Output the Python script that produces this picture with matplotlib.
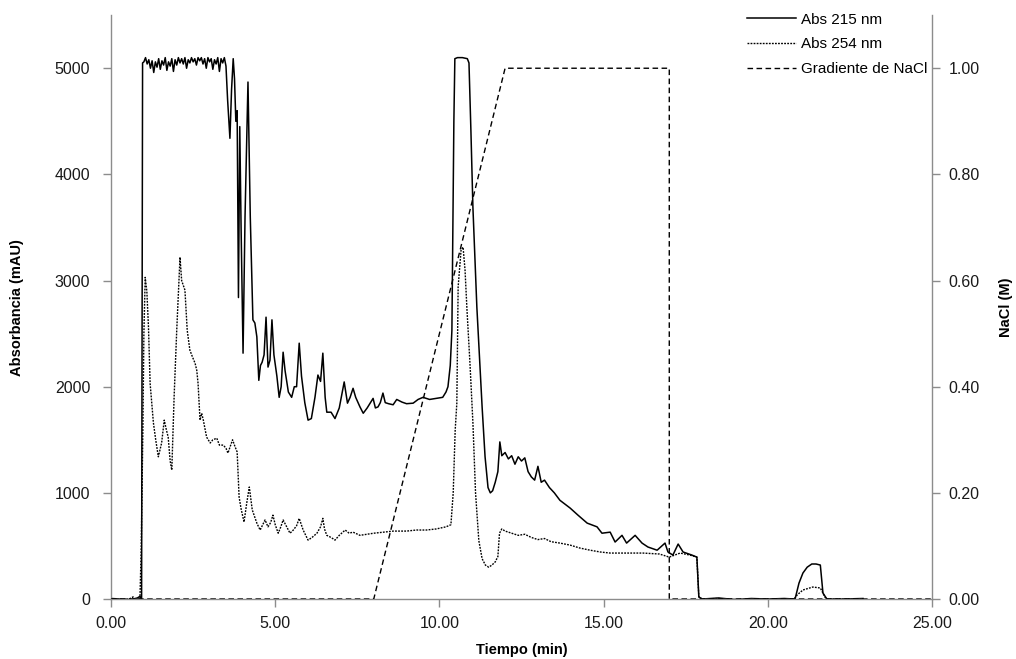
import numpy as np
import matplotlib
matplotlib.use("Agg")
import matplotlib.pyplot as plt

plt.rcParams['font.family'] = ['Liberation Sans', 'DejaVu Sans']

# Abs 215 nm (mAU)
t215 = [0.0, 0.3, 0.6, 0.8, 0.88, 0.93, 0.96, 1.00, 1.05, 1.10, 1.15, 1.20, 1.25, 1.30, 1.35,
        1.40, 1.45, 1.50, 1.55, 1.60, 1.65, 1.70, 1.75, 1.80, 1.85, 1.90, 1.95, 2.00, 2.05,
        2.10, 2.15, 2.20, 2.25, 2.30, 2.35, 2.40, 2.45, 2.50, 2.55, 2.60, 2.65, 2.70, 2.75,
        2.80, 2.85, 2.90, 2.95, 3.00, 3.05, 3.10, 3.15, 3.20, 3.25, 3.30, 3.35, 3.40, 3.45,
        3.50, 3.55, 3.62, 3.67, 3.72, 3.76, 3.80, 3.84, 3.88, 3.92, 3.96, 4.02, 4.08, 4.17,
        4.24, 4.32, 4.38, 4.44, 4.50, 4.55, 4.60, 4.66, 4.72, 4.78, 4.84, 4.90, 4.96, 5.05,
        5.12, 5.18, 5.24, 5.30, 5.40, 5.50, 5.58, 5.65, 5.73, 5.80, 5.90, 6.00, 6.10, 6.21,
        6.30, 6.38, 6.45, 6.52, 6.57, 6.70, 6.82, 6.95, 7.10, 7.20, 7.28, 7.37, 7.45, 7.58,
        7.68, 7.80, 7.90, 7.98, 8.05, 8.13, 8.20, 8.28, 8.35, 8.45, 8.59, 8.70, 8.86, 9.00,
        9.20, 9.35, 9.50, 9.70, 9.90, 10.10, 10.20, 10.26, 10.33, 10.38, 10.41, 10.44, 10.47,
        10.55, 10.70, 10.85, 10.90, 10.96, 11.02, 11.14, 11.30, 11.39, 11.48, 11.55, 11.62,
        11.70, 11.78, 11.84, 11.90, 12.00, 12.10, 12.20, 12.30, 12.40, 12.50, 12.60, 12.70,
        12.80, 12.90, 13.00, 13.10, 13.20, 13.35, 13.50, 13.67, 13.98, 14.22, 14.50, 14.80,
        14.95, 15.20, 15.35, 15.56, 15.70, 15.96, 16.17, 16.35, 16.63, 16.87, 16.96, 17.11,
        17.27, 17.42, 17.69, 17.84, 17.90, 18.00, 18.50, 19.00, 19.50, 20.00, 20.50, 20.83,
        20.95, 21.07, 21.20, 21.34, 21.47, 21.60, 21.68, 21.80, 22.30, 22.90]
a215 = [5, 0, -5, 10, 25, 0, 5050, 5060, 5100, 5040, 5080, 5000, 5070, 4960, 5060,
        5010, 5090, 4990, 5070, 5030, 5100, 4980, 5060, 5020, 5090, 4970, 5080, 5030, 5100,
        5050, 5090, 5040, 5100, 5000, 5080, 5050, 5100, 5060, 5090, 5030, 5100, 5070, 5100,
        5040, 5090, 5000, 5100, 5060, 5090, 4990, 5080, 5040, 5100, 4970, 5090, 5050, 5100,
        5020, 4700, 4340, 4800, 5090, 4900, 4500, 4600, 2840, 4450, 3500, 2316, 3600, 4870,
        3600, 2630, 2600, 2470, 2060, 2200, 2230, 2300, 2655, 2185, 2250, 2630, 2300, 2100,
        1900, 2000, 2325, 2150, 1950, 1900, 2000, 2000, 2410, 2100, 1850, 1685, 1700, 1900,
        2110, 2050, 2316, 1900, 1760, 1760, 1700, 1800, 2045, 1845, 1900, 1985, 1900, 1810,
        1750, 1800, 1850, 1890, 1800, 1810, 1850, 1940, 1850, 1840, 1830, 1880, 1855, 1840,
        1845, 1880, 1900, 1880, 1890, 1900, 1950, 2000, 2200, 2530, 3475, 4500, 5090,
        5100, 5100, 5090, 5050, 4400, 3690, 2750, 1810, 1340, 1050, 1000, 1020,
        1100, 1200, 1480, 1350, 1380, 1320, 1350, 1270, 1340, 1300, 1330, 1200,
        1150, 1120, 1250, 1100, 1120, 1050, 1000, 930, 857, 790, 715, 680,
        620, 630, 537, 600, 527, 600, 527, 490, 460, 527, 443, 414,
        518, 443, 414, 395, 20, 0, 10, -5, 5, 0, 5, 0,
        150, 245, 300, 330, 330, 320, 56, 0, 0, 5]

# Abs 254 nm (mAU)
t254 = [0.0, 0.3, 0.55, 0.67, 0.72, 0.88, 0.92, 0.97, 1.00, 1.04, 1.09, 1.14, 1.19, 1.29,
        1.36, 1.44, 1.54, 1.62, 1.68, 1.74, 1.80, 1.85, 1.92, 2.00, 2.10, 2.15, 2.25, 2.32,
        2.40, 2.48, 2.56, 2.61, 2.65, 2.71, 2.76, 2.81, 2.91, 3.02, 3.10, 3.22, 3.30, 3.42,
        3.50, 3.56, 3.70, 3.77, 3.84, 3.90, 3.96, 4.05, 4.13, 4.21, 4.30, 4.44, 4.54, 4.62,
        4.69, 4.78, 4.86, 4.93, 5.00, 5.09, 5.17, 5.24, 5.35, 5.45, 5.55, 5.65, 5.73, 5.85,
        6.00, 6.12, 6.27, 6.38, 6.45, 6.50, 6.57, 6.70, 6.82, 6.95, 7.13, 7.25, 7.37, 7.58,
        7.80, 8.00, 8.30, 8.60, 9.00, 9.30, 9.60, 9.90, 10.20, 10.35, 10.42, 10.48, 10.53,
        10.57, 10.66, 10.72, 10.78, 10.84, 10.93, 11.02, 11.10, 11.20, 11.30, 11.40, 11.50,
        11.60, 11.70, 11.78, 11.83, 11.90, 12.00, 12.20, 12.40, 12.60, 12.80, 13.00, 13.20,
        13.40, 13.67, 13.98, 14.28, 14.59, 14.90, 15.20, 15.70, 16.20, 16.70, 17.00, 17.33,
        17.63, 17.84, 17.90, 18.00, 18.50, 19.00, 20.00, 20.80, 20.90, 21.07, 21.37, 21.60,
        21.74, 21.80, 22.30, 22.90]
a254 = [0, -5, 0, 20, 0, 0, 500, 1620, 2500, 3030, 2900, 2560, 2030, 1660,
        1500, 1340, 1470, 1685, 1600, 1525, 1300, 1215, 1900, 2530, 3220, 3000, 2910, 2530,
        2345, 2280, 2220, 2155, 2030, 1685, 1750, 1685, 1525, 1470, 1500, 1515, 1450, 1450,
        1420, 1375, 1500, 1440, 1385, 960, 850, 725, 900, 1055, 840, 715, 650, 700,
        745, 680, 720, 790, 700, 620, 680, 745, 680, 620, 650, 690, 760, 650,
        555, 580, 620, 680, 760, 660, 600, 580, 555, 600, 650, 620, 630, 600,
        610, 620, 630, 640, 640, 650, 650, 660, 680, 700, 1000, 1590, 1845,
        2940, 3290, 3315, 3100, 2720, 2220, 1660, 1000, 550, 380, 320, 300,
        320, 350, 400, 620, 660, 640, 620, 600, 610, 580, 560, 570,
        540, 527, 508, 480, 460, 443, 433, 433, 433, 424, 395, 433,
        414, 395, 20, 0, 5, -5, 0, 0, 40, 85, 113, 104,
        19, 0, 0, 0]

# Gradiente de NaCl (M)
tgrad = [0.0, 8.0, 12.0, 17.0, 17.0, 25.0]
grad = [0.0, 0.0, 1.0, 1.0, 0.0, 0.0]

xticks = [0, 5, 10, 15, 20, 25]
yticks = [0, 1000, 2000, 3000, 4000, 5000]
y2ticks = [0.0, 0.2, 0.4, 0.6, 0.8, 1.0]

fig = plt.figure(figsize=(10.16, 6.59), dpi=100)
ax = fig.add_axes([0.1093, 0.091, 0.8080, 0.886])
ax2 = ax.twinx()

l1, = ax.plot(t215, a215, color='black', lw=1.1, ls='-', label='Abs 215 nm')
l2, = ax.plot(t254, a254, color='black', lw=1.0, ls=(0, (1.3, 0.9)), label='Abs 254 nm')
l3, = ax2.plot(tgrad, grad, color='black', lw=1.0, ls=(0, (4, 2.5)), label='Gradiente de NaCl')

ax.set_xlim(0, 25)
ax.set_ylim(0, 5500)
ax2.set_ylim(0, 1.1)
ax.set_xticks(xticks)
ax.set_xticklabels(['%.2f' % v for v in xticks])
ax.set_yticks(yticks)
ax2.set_yticks(y2ticks)
ax2.set_yticklabels(['%.2f' % v for v in y2ticks])

for a in (ax, ax2):
    a.spines['top'].set_visible(False)
    for s in ('left', 'right', 'bottom'):
        a.spines[s].set_color('#8c8c8c')
        a.spines[s].set_linewidth(1.0)
    a.tick_params(axis='both', direction='out', length=6, width=1.0,
                  color='#8c8c8c', labelsize=11.5, labelcolor='#1a1a1a', pad=6)
ax.tick_params(axis='y', pad=9)
ax.spines['right'].set_visible(False)
ax2.spines['left'].set_visible(False)
ax2.spines['bottom'].set_visible(False)

ax.set_xlabel('Tiempo (min)', fontsize=10.5, fontweight='bold', labelpad=9)
ax.set_ylabel('Absorbancia (mAU)', fontsize=10.5, fontweight='bold', labelpad=22)
ax2.set_ylabel('NaCl (M)', fontsize=10.5, fontweight='bold', rotation=90, labelpad=14)

leg = ax.legend(handles=[l1, l2, l3], loc='upper right', bbox_to_anchor=(1.005, 1.02),
                frameon=False, fontsize=11, handlelength=3.2, handletextpad=0.3,
                labelspacing=0.7, borderaxespad=0.2)

fig.savefig('out.png', dpi=100)
